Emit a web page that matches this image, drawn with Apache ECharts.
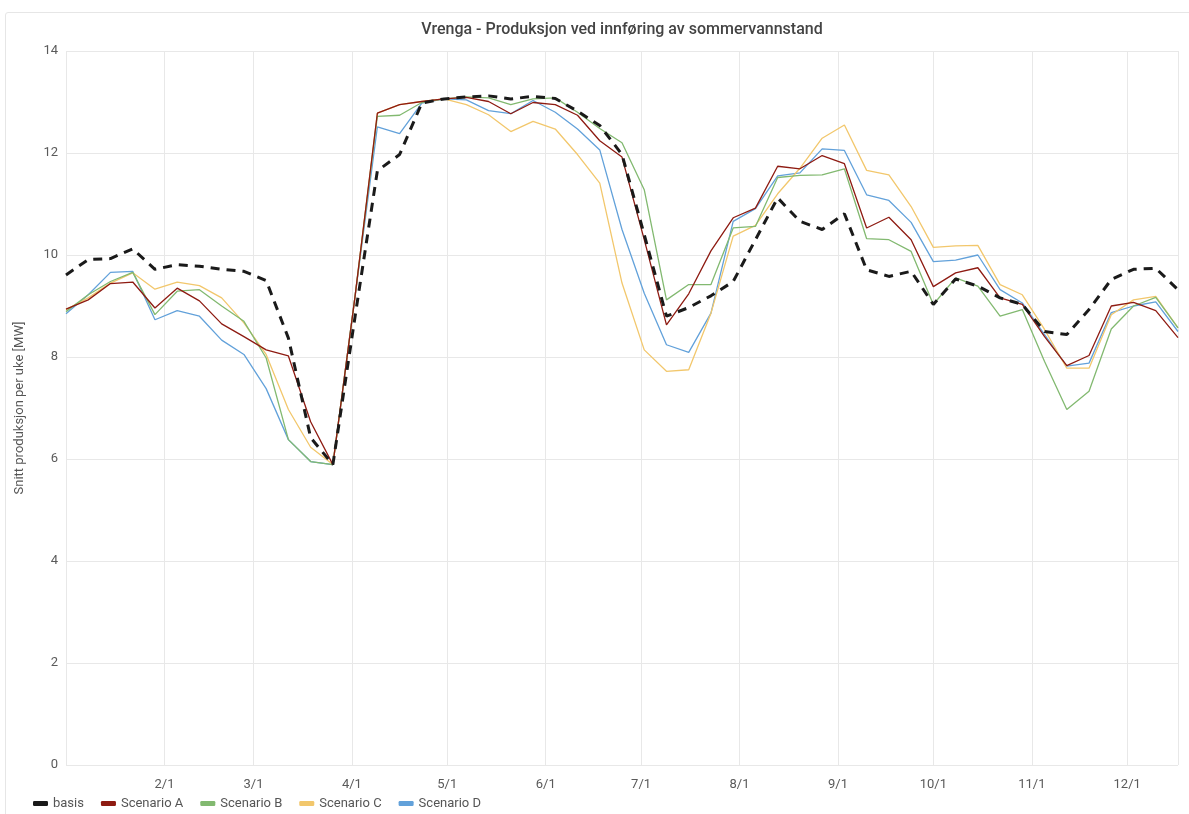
<!DOCTYPE html>
<html>
<head>
<meta charset="utf-8">
<script src="https://cdn.jsdelivr.net/npm/echarts@6/dist/echarts.min.js"></script>
<style>
  html, body { margin: 0; padding: 0; background: #fff; overflow: hidden; }
  #panel { position: absolute; left: 5px; top: 12px; width: 1300px; height: 900px; border: 1px solid #e6e6e6; border-radius: 3px; box-sizing: border-box; }
  #chart { position: absolute; left: 0; top: 0; width: 1189px; height: 814px; }
</style>
</head>
<body>
<div id="panel"></div>
<div id="chart"></div>
<script>
const titleText = 'Vrenga - Produksjon ved innføring av sommervannstand';
const yAxisName = 'Snitt produksjon per uke [MW]';
const seriesNames = ['basis', 'Scenario A', 'Scenario B', 'Scenario C', 'Scenario D'];

const weeks = [
  '2021-01-01','2021-01-08','2021-01-15','2021-01-22','2021-01-29',
  '2021-02-05','2021-02-12','2021-02-19','2021-02-26',
  '2021-03-05','2021-03-12','2021-03-19','2021-03-26',
  '2021-04-02','2021-04-09','2021-04-16','2021-04-23','2021-04-30',
  '2021-05-07','2021-05-14','2021-05-21','2021-05-28',
  '2021-06-04','2021-06-11','2021-06-18','2021-06-25',
  '2021-07-02','2021-07-09','2021-07-16','2021-07-23','2021-07-30',
  '2021-08-06','2021-08-13','2021-08-20','2021-08-27',
  '2021-09-03','2021-09-10','2021-09-17','2021-09-24',
  '2021-10-01','2021-10-08','2021-10-15','2021-10-22','2021-10-29',
  '2021-11-05','2021-11-12','2021-11-19','2021-11-26',
  '2021-12-03','2021-12-10','2021-12-17'
];

const basis = [9.61,9.91,9.93,10.12,9.72,9.81,9.78,9.72,9.68,9.5,8.37,6.42,5.89,8.8,11.65,11.97,12.98,13.06,13.1,13.12,13.06,13.11,13.07,12.82,12.54,11.97,10.4,8.8,8.97,9.2,9.48,10.3,11.12,10.66,10.5,10.81,9.71,9.58,9.68,9.03,9.53,9.39,9.16,9.03,8.5,8.44,8.93,9.52,9.72,9.74,9.32];
const scenarioA = [8.94,9.12,9.44,9.47,8.96,9.35,9.1,8.65,8.4,8.14,8.02,6.73,5.89,9.2,12.78,12.95,13.01,13.06,13.09,13.01,12.77,12.99,12.95,12.74,12.24,11.92,10.3,8.63,9.24,10.08,10.73,10.92,11.74,11.69,11.95,11.79,10.53,10.74,10.3,9.38,9.65,9.75,9.16,9.03,8.4,7.83,8.03,9.0,9.07,8.91,8.38];
const scenarioB = [8.89,9.22,9.48,9.66,8.83,9.29,9.32,9.0,8.7,7.98,6.38,5.95,5.89,9.2,12.72,12.74,12.99,13.06,13.1,13.08,12.95,13.06,13.08,12.8,12.48,12.2,11.28,9.12,9.42,9.42,10.53,10.56,11.52,11.56,11.57,11.69,10.32,10.3,10.07,9.03,9.55,9.39,8.8,8.93,7.91,6.97,7.33,8.55,9.0,9.17,8.57];
const scenarioC = [8.93,9.16,9.45,9.65,9.33,9.47,9.4,9.16,8.67,8.05,6.97,6.23,5.89,9.2,12.78,12.95,13.01,13.06,12.95,12.75,12.42,12.62,12.47,11.97,11.41,9.45,8.14,7.72,7.75,8.86,10.37,10.58,11.2,11.7,12.29,12.55,11.66,11.57,10.95,10.15,10.18,10.19,9.42,9.22,8.54,7.78,7.78,8.83,9.12,9.19,8.57];
const scenarioD = [8.85,9.22,9.66,9.68,8.73,8.91,8.8,8.33,8.05,7.38,6.38,5.95,5.89,9.2,12.51,12.38,12.98,13.06,13.04,12.83,12.77,13.03,12.8,12.47,12.06,10.5,9.25,8.24,8.09,8.86,10.66,10.91,11.55,11.61,12.08,12.05,11.18,11.07,10.64,9.87,9.9,10.0,9.32,9.06,8.44,7.82,7.88,8.87,9.0,9.08,8.5];

const colors = ['#1a1a1a', '#8e1b12', '#82b970', '#f2c76c', '#62a1da'];
const allValues = [basis, scenarioA, scenarioB, scenarioC, scenarioD];

const DAY = 86400000;
const chart = echarts.init(document.getElementById('chart'), null, { renderer: 'canvas' });

const series = allValues.map((vals, i) => ({
  name: seriesNames[i],
  type: 'line',
  data: weeks.map((d, j) => [d, vals[j]]),
  showSymbol: false,
  symbol: 'none',
  smooth: false,
  z: i === 0 ? 10 : 5 - i,
  lineStyle: i === 0
    ? { color: colors[0], width: 3, type: [9, 7] }
    : { color: colors[i], width: 1.3 },
  itemStyle: { color: colors[i] },
  emphasis: { disabled: true }
}));

chart.setOption({
  animation: false,
  textStyle: { fontFamily: 'Roboto, "Noto Sans", sans-serif' },
  title: {
    text: titleText,
    left: 617,
    textAlign: 'center',
    top: 17,
    textStyle: { fontSize: 16, fontWeight: 500, color: '#444', fontFamily: 'Roboto' }
  },
  legend: {
    left: 28,
    bottom: 4,
    padding: [0, 5, 0, 5],
    icon: 'roundRect',
    itemWidth: 15,
    itemHeight: 5,
    itemGap: 17,
    textStyle: { fontSize: 13, color: '#555', fontFamily: 'Roboto' },
    data: seriesNames
  },
  grid: { left: 66, right: 11, top: 51, bottom: 49, containLabel: false },
  xAxis: {
    type: 'time',
    min: weeks[0],
    max: weeks[weeks.length - 1],
    minInterval: 28 * DAY,
    maxInterval: 31 * DAY,
    axisLine: { show: false },
    axisTick: { show: false },
    axisLabel: {
      formatter: function (value) {
        const d = new Date(value);
        if (d.getTime() <= new Date(weeks[0]).getTime()) return '';
        return (d.getMonth() + 1) + '/' + d.getDate();
      },
      color: '#5a5a5a',
      fontSize: 13,
      margin: 13,
      hideOverlap: false
    },
    splitLine: { show: true, lineStyle: { color: '#e8e8e8', width: 1 } }
  },
  yAxis: {
    type: 'value',
    min: 0,
    max: 14,
    interval: 2,
    name: yAxisName,
    nameLocation: 'middle',
    nameGap: 40,
    nameTextStyle: { fontSize: 13, color: '#555', fontFamily: 'Roboto' },
    axisLine: { show: false },
    axisTick: { show: false },
    axisLabel: { color: '#5a5a5a', fontSize: 13, margin: 8 },
    splitLine: { lineStyle: { color: '#e8e8e8', width: 1 } }
  },
  series: series
});
</script>
</body>
</html>
